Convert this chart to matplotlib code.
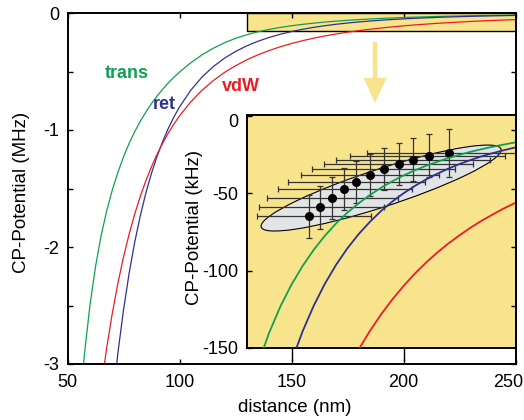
import numpy as np
import matplotlib.pyplot as plt
from matplotlib.patches import Rectangle, Circle, FancyArrow
from matplotlib.transforms import Affine2D, ScaledTranslation

plt.rcParams['font.family'] = ['Liberation Sans', 'DejaVu Sans']
plt.rcParams['axes.unicode_minus'] = False
plt.rcParams['font.size'] = 13
plt.rcParams['axes.labelsize'] = 13.5

# curves (MHz)
distance = [55, 57.5, 60, 62.5, 65, 67.5, 70, 72.5, 75, 77.5, 80, 82.5, 85,
            87.5, 90, 92.5, 95, 97.5, 100, 105, 110, 115, 120, 125, 130, 135,
            140, 145, 150, 155, 160, 165, 170, 175, 180, 185, 190, 195, 200,
            205, 210, 215, 220, 225, 230, 235, 240, 245, 250]
trans = [-3.482, -2.927, -2.501, -2.168, -1.904, -1.691, -1.513, -1.362, -1.230,
         -1.115, -1.014, -0.925, -0.846, -0.774, -0.709, -0.651, -0.597, -0.549,
         -0.505, -0.426, -0.358, -0.302, -0.255, -0.217, -0.186, -0.1606,
         -0.1402, -0.1233, -0.1091, -0.0970, -0.0865, -0.0774, -0.0695, -0.0626,
         -0.0566, -0.0513, -0.0466, -0.0424, -0.0387, -0.0354, -0.0325, -0.0299,
         -0.0275, -0.0254, -0.0234, -0.0217, -0.0201, -0.0187, -0.0173]
ret = [-8.776, -7.346, -6.196, -5.262, -4.498, -3.868, -3.344, -2.906, -2.538,
       -2.226, -1.960, -1.733, -1.538, -1.370, -1.224, -1.097, -0.986, -0.889,
       -0.803, -0.661, -0.5485, -0.459, -0.3872, -0.329, -0.2812, -0.2418,
       -0.2090, -0.1817, -0.1586, -0.1391, -0.1225, -0.1083, -0.0961, -0.0856,
       -0.0765, -0.0686, -0.0616, -0.0555, -0.0502, -0.0455, -0.0413, -0.0376,
       -0.0343, -0.0313, -0.0287, -0.0263, -0.0242, -0.0223, -0.0206]
vdw = [-5.289, -4.629, -4.074, -3.604, -3.204, -2.861, -2.566, -2.309, -2.086,
       -1.891, -1.719, -1.567, -1.433, -1.314, -1.207, -1.112, -1.026, -0.949,
       -0.880, -0.760, -0.661, -0.579, -0.509, -0.451, -0.4005, -0.3577,
       -0.3207, -0.2887, -0.2607, -0.2363, -0.2148, -0.1959, -0.1791, -0.1642,
       -0.1509, -0.1390, -0.1283, -0.1187, -0.1100, -0.1021, -0.0950, -0.0885,
       -0.0826, -0.0773, -0.0723, -0.0678, -0.0637, -0.0598, -0.0563]

# measured points (kHz)
exp_d = [157.8, 162.5, 167.9, 173.6, 179.0, 185.2, 191.2, 197.8, 204.1, 211.4, 220.3]
exp_v = [-65.1, -59.3, -53.2, -47.4, -42.9, -38.4, -34.6, -31.1, -28.4, -26.0, -23.9]
exp_yerr = [14, 13.7, 13.7, 13.7, 13.7, 13.7, 13.5, 13.5, 13.7, 13.8, 15.5]
exp_xerr_lo = [23, 27, 29, 29.6, 30.4, 31.1, 32.2, 33.4, 34.2, 35.1, 36.6]
exp_xerr_hi = [27.8, 28.6, 29.6, 30.1, 30.6, 30.8, 31.8, 33.4, 34.4, 33.8, 36]

# confidence ellipse: centre and two conjugate semi-diameters (nm, kHz)
ell_center = (190.0, -46.8)
ell_axis1 = (53.6, 24.6)
ell_axis2 = (0.0, -12.8)

green = '#10a050'
blue = '#2e3192'
red = '#ed1c24'
yellow = '#f8e48d'

W, H = 524, 420
fig = plt.figure(figsize=(W / 100, H / 100), dpi=100)
ax = fig.add_axes([67.5 / W, 1 - 364 / H, 448 / W, 351 / H])
ins = fig.add_axes([246.7 / W, 1 - 348 / H, 268.8 / W, 232.5 / H])
ax.set_zorder(2)
ins.set_zorder(1)
ax.set_facecolor('none')

# main panel
ax.add_patch(Rectangle((130, -0.15), 120, 0.15, fc=yellow, ec='k', lw=1.0, zorder=1))
ax.plot(distance, trans, color=green, lw=0.9, zorder=2)
ax.plot(distance, ret, color=blue, lw=0.9, zorder=2)
ax.plot(distance, vdw, color=red, lw=0.9, zorder=2)
ax.set_xlim(50, 250)
ax.set_ylim(-3, 0)
ax.set_xticks([50, 100, 150, 200, 250])
ax.set_yticks([0, -0.5, -1, -1.5, -2, -2.5, -3])
ax.set_yticklabels(['0', '', '-1', '', '-2', '', '-3'])
ax.tick_params(direction='in', top=True, right=True, length=3.6, width=1.0)
ax.tick_params(axis='y', pad=6)
ax.tick_params(axis='x', pad=7)
for s in ax.spines.values():
    s.set_linewidth(1.4)
last = ax.xaxis.get_major_ticks()[-1].label1
last.set_transform(last.get_transform() + ScaledTranslation(-7 / 100, 0, fig.dpi_scale_trans))
ax.set_xlabel('distance (nm)')
ax.xaxis.set_label_coords(0.508, -0.1)
ax.set_ylabel('CP-Potential (MHz)')
ax.yaxis.label.set_verticalalignment('center')
ax.yaxis.set_label_coords(-0.102, 0.49)

ax.text(76.4, -0.521, 'trans', color=green, fontweight='bold', ha='center', va='center')
ax.text(93.2, -0.778, 'ret', color=blue, fontweight='bold', ha='center', va='center')
ax.text(127.5, -0.632, 'vdW', color=red, fontweight='bold', ha='center', va='center')

# inset
ins.set_facecolor(yellow)
m = np.array([[ell_axis1[0], ell_axis2[0], ell_center[0]],
              [ell_axis1[1], ell_axis2[1], ell_center[1]],
              [0, 0, 1]])
ins.add_patch(Circle((0, 0), 1, transform=Affine2D(m) + ins.transData,
                     fc='#e3e4e6', ec='k', lw=0.8, zorder=1))
ins.errorbar(exp_d, exp_v, xerr=[exp_xerr_lo, exp_xerr_hi], yerr=exp_yerr,
             fmt='o', color='k', ms=5.5, ecolor='#333333', elinewidth=0.9,
             capsize=2.5, capthick=0.9, zorder=2)
ins.plot(distance, np.array(trans) * 1000, color=green, lw=1.3, zorder=3)
ins.plot(distance, np.array(ret) * 1000, color=blue, lw=1.3, zorder=3)
ins.plot(distance, np.array(vdw) * 1000, color=red, lw=1.3, zorder=3)
ins.set_xlim(130, 250)
ins.set_ylim(-150, 0)
ins.set_xticks([150, 200])
ins.set_xticklabels([])
ins.set_yticks([0, -50, -100, -150])
ins.tick_params(axis='x', direction='out', length=9.5, width=1.0)
ins.tick_params(axis='y', direction='in', length=3.6, width=1.0, pad=6)
for s in ins.spines.values():
    s.set_linewidth(1.4)
top0 = ins.yaxis.get_major_ticks()[0].label1
top0.set_transform(top0.get_transform() + ScaledTranslation(0, -5 / 100, fig.dpi_scale_trans))
ins.set_ylabel('CP-Potential (kHz)')
ins.yaxis.label.set_verticalalignment('center')
ins.yaxis.set_label_coords(-0.194, 0.52)

# arrow from band to inset
fig.add_artist(FancyArrow(3.75, 3.78, 0, -0.61, width=0.045, head_width=0.23,
                          head_length=0.25, length_includes_head=True,
                          transform=fig.dpi_scale_trans, color=yellow, lw=0))

fig.savefig('out.png', dpi=100)
